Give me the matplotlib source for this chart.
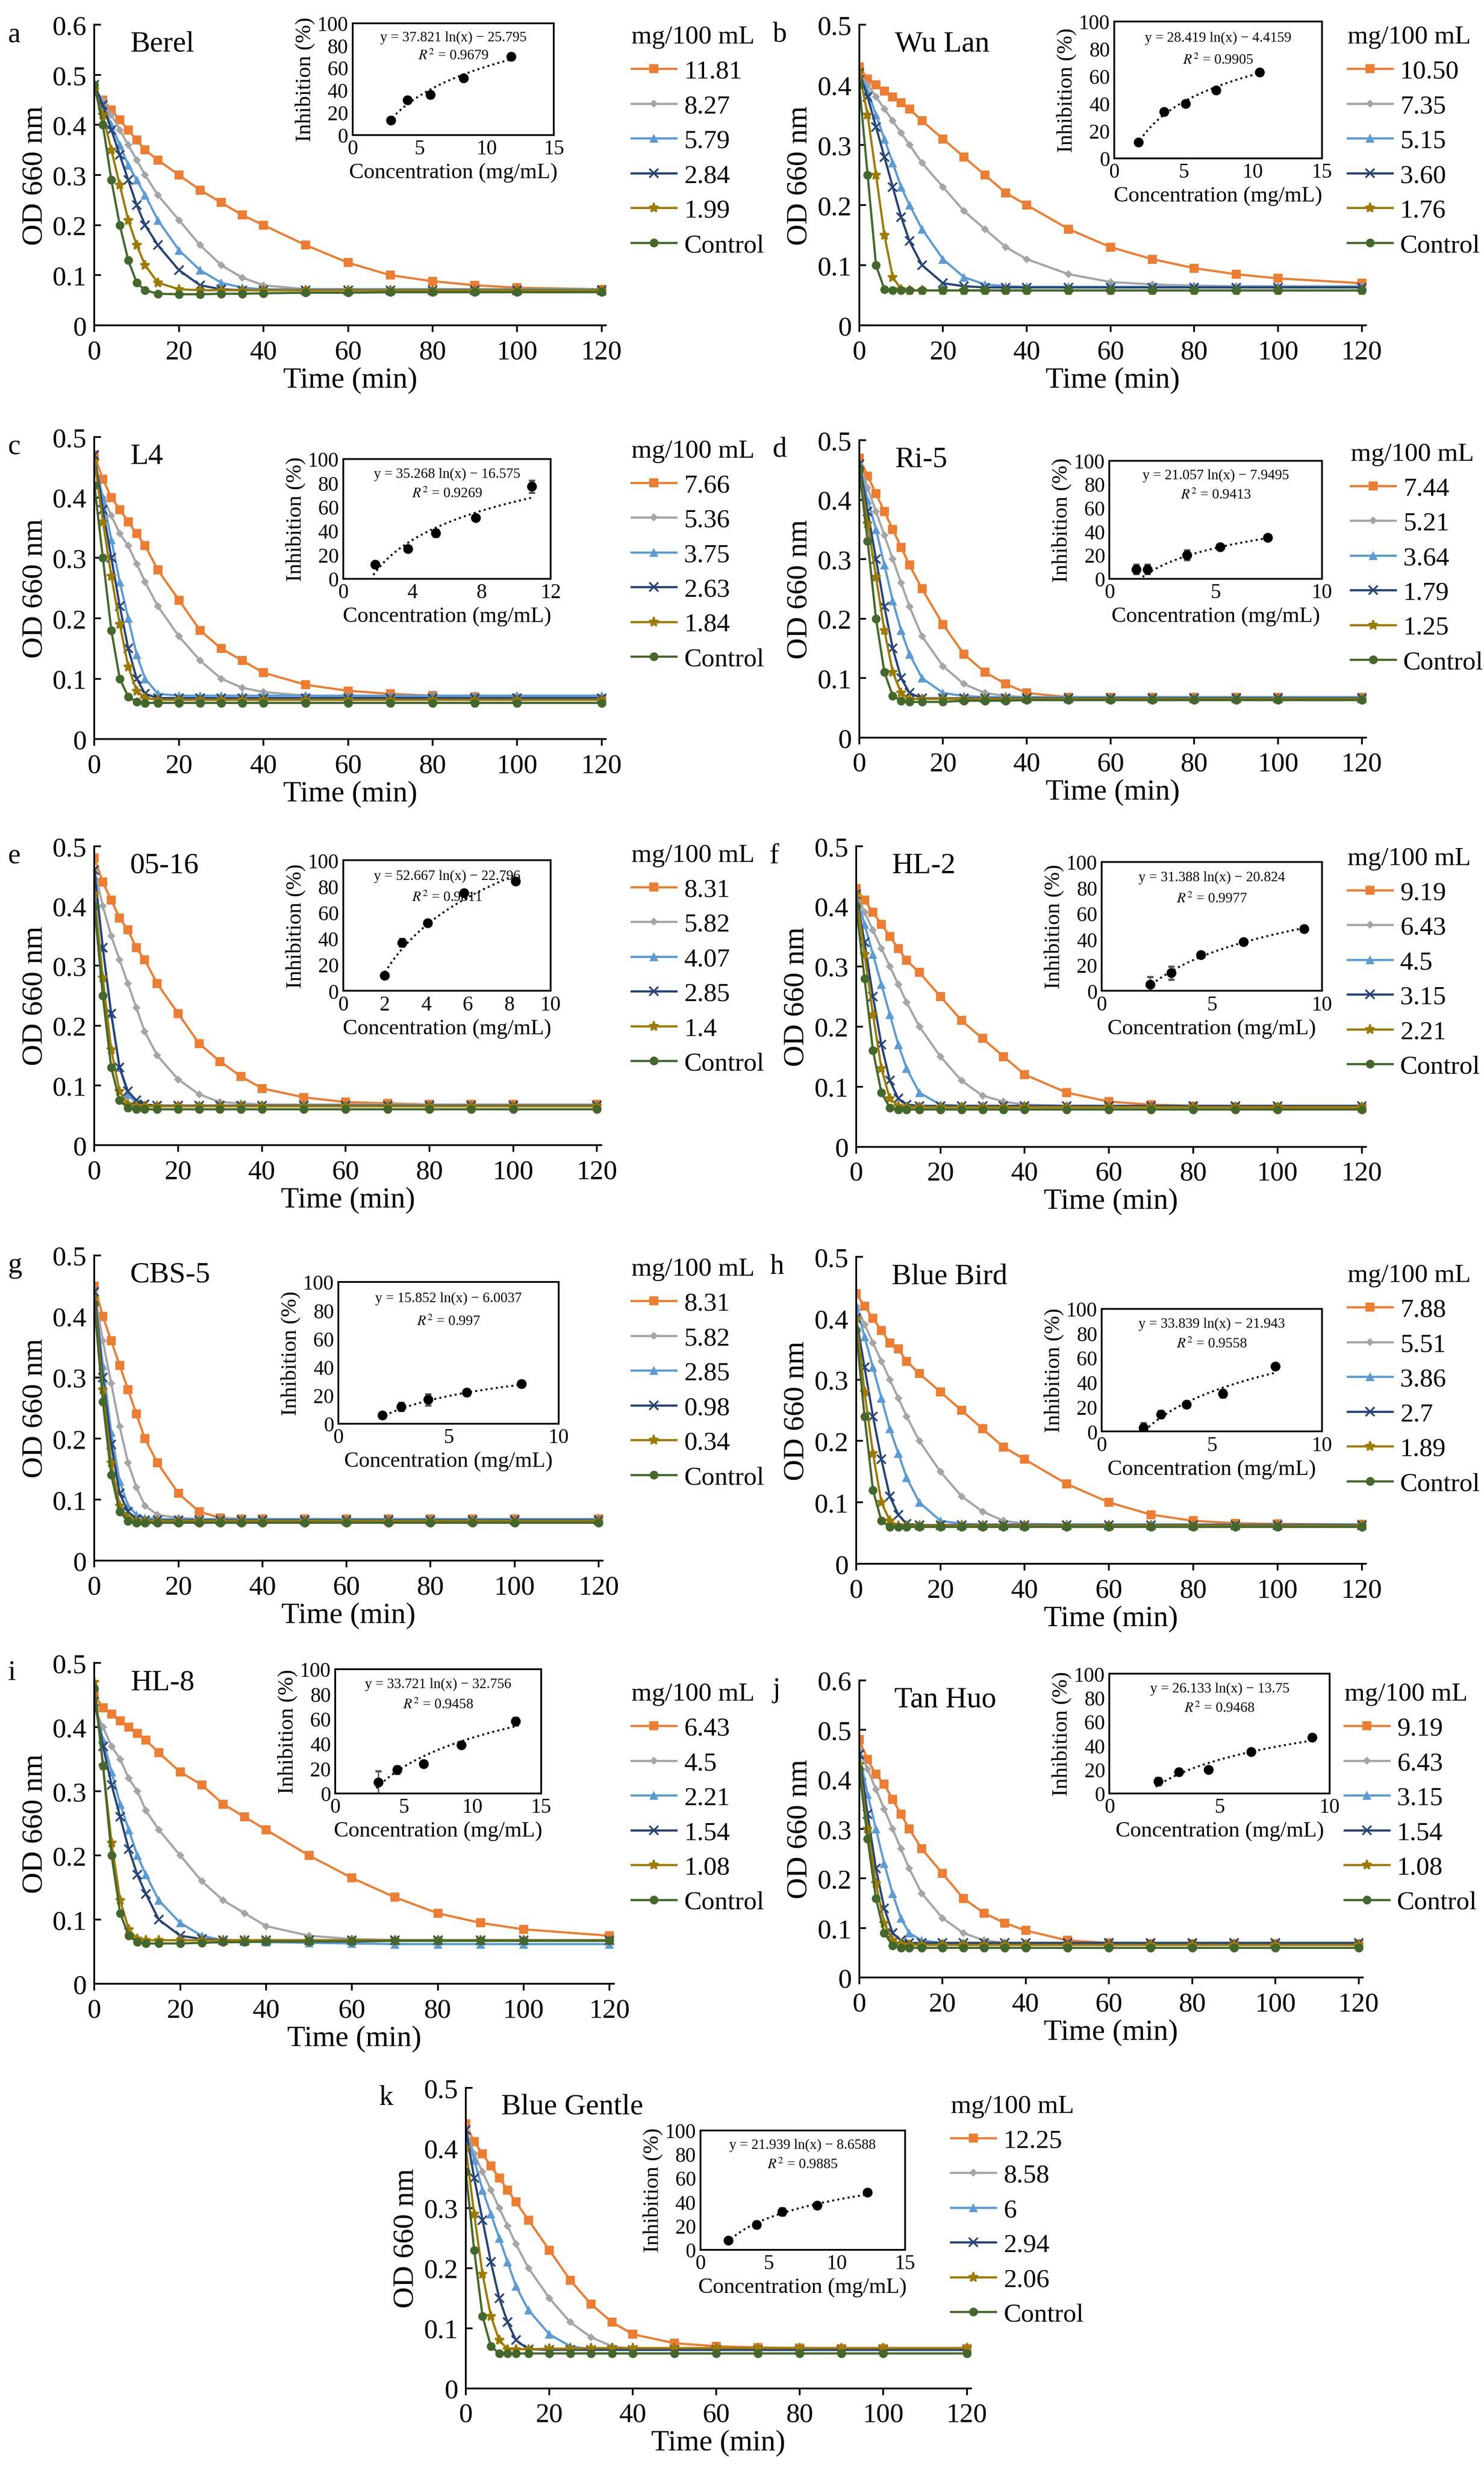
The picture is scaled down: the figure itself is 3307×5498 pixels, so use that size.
import matplotlib
matplotlib.use('Agg')
import matplotlib.pyplot as plt
import numpy as np

plt.rcParams['font.family'] = ['Liberation Serif', 'DejaVu Serif']
plt.rcParams['mathtext.fontset'] = 'stix'

# time points (min)
T = [0, 2, 4, 6, 8, 10, 12, 15, 20, 25, 30, 35, 40, 50, 60, 70, 80, 90, 100, 120]

colors = ['#ED7D31', '#A5A5A5', '#5B9BD5', '#264478', '#9E7A00', '#43682B']
markers = ['s', 'D', '^', 'x', '*', 'o']
msizes = [4, 2.5, 4, 4, 4.5, 4]

names = ['Berel', 'Wu Lan', 'L4', 'Ri-5', '05-16', 'HL-2', 'CBS-5', 'Blue Bird', 'HL-8', 'Tan Huo', 'Blue Gentle']
letters = list('abcdefghijk')

labels = [
    ['11.81', '8.27', '5.79', '2.84', '1.99', 'Control'],
    ['10.50', '7.35', '5.15', '3.60', '1.76', 'Control'],
    ['7.66', '5.36', '3.75', '2.63', '1.84', 'Control'],
    ['7.44', '5.21', '3.64', '1.79', '1.25', 'Control'],
    ['8.31', '5.82', '4.07', '2.85', '1.4', 'Control'],
    ['9.19', '6.43', '4.5', '3.15', '2.21', 'Control'],
    ['8.31', '5.82', '2.85', '0.98', '0.34', 'Control'],
    ['7.88', '5.51', '3.86', '2.7', '1.89', 'Control'],
    ['6.43', '4.5', '2.21', '1.54', '1.08', 'Control'],
    ['9.19', '6.43', '3.15', '1.54', '1.08', 'Control'],
    ['12.25', '8.58', '6', '2.94', '2.06', 'Control'],
]

od_a = [
    [.47, .45, .43, .41, .39, .37, .35, .33, .30, .27, .245, .22, .20, .16, .125, .10, .088, .08, .075, .072],
    [.47, .45, .42, .39, .36, .33, .30, .26, .21, .16, .12, .095, .08, .072, .072, .072, .072, .072, .072, .072],
    [.48, .44, .40, .36, .32, .29, .26, .21, .15, .11, .085, .075, .072, .072, .072, .072, .072, .072, .072, .072],
    [.48, .44, .39, .34, .29, .24, .20, .16, .11, .08, .072, .07, .07, .07, .07, .07, .07, .07, .07, .07],
    [.47, .42, .35, .28, .21, .16, .12, .085, .072, .07, .07, .07, .07, .07, .07, .07, .07, .07, .07, .07],
    [.48, .40, .29, .20, .13, .085, .07, .063, .062, .062, .063, .063, .064, .065, .065, .066, .066, .066, .066, .066],
]
od_b = [
    [.43, .41, .40, .39, .38, .37, .36, .34, .31, .28, .25, .22, .20, .16, .13, .11, .095, .085, .078, .07],
    [.42, .40, .38, .36, .34, .32, .30, .27, .23, .19, .16, .13, .11, .085, .072, .068, .066, .065, .065, .065],
    [.42, .39, .35, .31, .27, .23, .20, .16, .11, .08, .068, .065, .064, .064, .064, .064, .064, .064, .064, .064],
    [.42, .38, .33, .28, .23, .18, .14, .10, .07, .065, .063, .063, .063, .063, .063, .063, .063, .063, .063, .063],
    [.42, .35, .25, .15, .08, .06, .058, .058, .058, .058, .058, .058, .058, .058, .058, .058, .058, .058, .058, .058],
    [.40, .25, .10, .06, .058, .058, .058, .058, .058, .058, .058, .058, .058, .058, .058, .058, .058, .058, .058, .058],
]
od_c = [
    [.47, .43, .40, .38, .36, .34, .32, .28, .23, .18, .15, .13, .11, .09, .08, .075, .072, .07, .068, .066],
    [.45, .40, .37, .34, .32, .29, .26, .22, .17, .13, .10, .085, .078, .072, .07, .07, .07, .07, .07, .07],
    [.46, .40, .33, .26, .20, .14, .10, .075, .072, .072, .072, .072, .072, .072, .072, .072, .072, .072, .072, .072],
    [.47, .38, .30, .22, .15, .10, .075, .068, .068, .068, .068, .068, .068, .068, .068, .068, .068, .068, .068, .068],
    [.46, .36, .27, .19, .12, .08, .068, .065, .065, .065, .065, .065, .065, .065, .065, .065, .065, .065, .065, .065],
    [.42, .30, .18, .10, .07, .062, .06, .06, .06, .06, .06, .06, .06, .06, .06, .06, .06, .06, .06, .06],
]
od_d = [
    [.47, .44, .41, .38, .35, .32, .29, .25, .19, .14, .11, .09, .075, .068, .068, .068, .068, .068, .068, .068],
    [.46, .42, .38, .34, .30, .26, .22, .17, .12, .09, .075, .07, .068, .068, .068, .068, .068, .068, .068, .068],
    [.46, .40, .35, .29, .23, .18, .14, .10, .075, .07, .068, .068, .068, .068, .068, .068, .068, .068, .068, .068],
    [.46, .38, .30, .22, .15, .10, .075, .066, .066, .066, .066, .066, .066, .066, .066, .066, .066, .066, .066, .066],
    [.45, .36, .27, .18, .11, .075, .065, .065, .065, .065, .065, .065, .065, .065, .065, .065, .065, .065, .065, .065],
    [.45, .33, .20, .11, .07, .062, .06, .06, .06, .062, .062, .062, .063, .063, .063, .063, .063, .063, .063, .063],
]
od_e = [
    [.48, .44, .41, .38, .36, .33, .31, .27, .22, .17, .14, .115, .095, .08, .072, .07, .068, .068, .068, .068],
    [.46, .40, .35, .31, .27, .23, .19, .15, .11, .085, .072, .07, .068, .068, .068, .068, .068, .068, .068, .068],
    [.45, .33, .22, .13, .085, .07, .066, .066, .066, .066, .066, .066, .066, .066, .066, .066, .066, .066, .066, .066],
    [.46, .33, .22, .13, .09, .075, .068, .066, .066, .066, .066, .066, .066, .066, .066, .066, .066, .066, .066, .066],
    [.42, .28, .16, .09, .068, .065, .065, .065, .065, .065, .065, .065, .065, .065, .065, .065, .065, .065, .065, .065],
    [.40, .25, .13, .075, .062, .06, .06, .06, .06, .06, .06, .06, .06, .06, .06, .06, .06, .06, .06, .06],
]
od_f = [
    [.43, .41, .39, .37, .35, .33, .31, .29, .25, .21, .18, .15, .12, .09, .075, .07, .068, .066, .065, .064],
    [.42, .39, .36, .33, .30, .27, .24, .20, .15, .11, .085, .075, .07, .068, .068, .068, .068, .068, .068, .068],
    [.42, .37, .32, .27, .22, .17, .13, .09, .07, .068, .068, .068, .068, .068, .068, .068, .068, .068, .068, .068],
    [.42, .34, .25, .17, .11, .08, .07, .068, .068, .068, .068, .068, .068, .068, .068, .068, .068, .068, .068, .068],
    [.42, .32, .22, .13, .08, .068, .066, .066, .066, .066, .066, .066, .066, .066, .066, .066, .066, .066, .066, .066],
    [.40, .28, .16, .09, .065, .062, .062, .062, .062, .062, .062, .062, .062, .062, .062, .062, .062, .062, .062, .062],
]
od_g = [
    [.45, .40, .36, .32, .28, .24, .20, .16, .11, .08, .07, .068, .068, .068, .068, .068, .068, .068, .068, .068],
    [.44, .36, .29, .22, .16, .12, .09, .075, .07, .068, .068, .068, .068, .068, .068, .068, .068, .068, .068, .068],
    [.44, .32, .21, .13, .09, .075, .07, .068, .068, .068, .068, .068, .068, .068, .068, .068, .068, .068, .068, .068],
    [.44, .30, .19, .11, .08, .068, .066, .066, .066, .066, .066, .066, .066, .066, .066, .066, .066, .066, .066, .066],
    [.43, .28, .16, .09, .07, .065, .065, .065, .065, .065, .065, .065, .065, .065, .065, .065, .065, .065, .065, .065],
    [.42, .26, .14, .08, .065, .062, .062, .062, .062, .062, .062, .062, .062, .062, .062, .062, .062, .062, .062, .062],
]
od_h = [
    [.44, .42, .40, .38, .36, .35, .33, .31, .28, .25, .22, .19, .17, .13, .10, .08, .07, .066, .065, .064],
    [.42, .39, .36, .33, .30, .27, .24, .20, .15, .11, .085, .07, .065, .064, .064, .064, .064, .064, .064, .064],
    [.42, .37, .32, .27, .22, .18, .14, .10, .07, .065, .064, .064, .064, .064, .064, .064, .064, .064, .064, .064],
    [.40, .32, .24, .17, .11, .08, .065, .063, .063, .063, .063, .063, .063, .063, .063, .063, .063, .063, .063, .063],
    [.40, .28, .18, .10, .07, .062, .062, .062, .062, .062, .062, .062, .062, .062, .062, .062, .062, .062, .062, .062],
    [.38, .24, .12, .07, .06, .06, .06, .06, .06, .06, .06, .06, .06, .06, .06, .06, .06, .06, .06, .06],
]
od_i = [
    [.45, .43, .42, .41, .40, .39, .38, .36, .33, .31, .28, .26, .24, .20, .165, .135, .11, .095, .085, .075],
    [.43, .40, .37, .35, .32, .30, .27, .24, .20, .16, .13, .11, .09, .075, .07, .068, .068, .068, .068, .068],
    [.44, .38, .33, .28, .24, .20, .17, .13, .095, .075, .068, .066, .065, .064, .063, .062, .062, .062, .062, .062],
    [.44, .37, .31, .26, .21, .17, .14, .10, .075, .07, .068, .068, .068, .068, .068, .068, .068, .068, .068, .068],
    [.47, .34, .22, .13, .085, .07, .068, .068, .068, .068, .068, .068, .068, .068, .068, .068, .068, .068, .068, .068],
    [.46, .34, .20, .11, .075, .065, .063, .063, .063, .064, .065, .065, .066, .066, .066, .067, .067, .067, .067, .067],
]
od_j = [
    [.48, .44, .41, .39, .36, .33, .30, .26, .21, .16, .13, .11, .095, .075, .07, .068, .068, .068, .068, .068],
    [.46, .42, .38, .34, .30, .26, .22, .17, .12, .09, .075, .07, .068, .068, .068, .068, .068, .068, .068, .068],
    [.45, .37, .30, .23, .17, .12, .09, .075, .07, .07, .07, .07, .07, .07, .07, .07, .07, .07, .07, .07],
    [.45, .33, .22, .14, .09, .075, .07, .07, .07, .07, .07, .07, .07, .07, .07, .07, .07, .07, .07, .07],
    [.43, .30, .19, .11, .075, .068, .066, .066, .066, .066, .066, .066, .066, .066, .066, .066, .066, .066, .066, .066],
    [.42, .28, .16, .09, .065, .06, .06, .06, .06, .06, .06, .06, .06, .06, .06, .06, .06, .06, .06, .06],
]
od_k = [
    [.44, .41, .39, .37, .35, .33, .31, .28, .23, .18, .14, .11, .09, .075, .07, .068, .067, .066, .066, .066],
    [.43, .39, .36, .33, .30, .27, .24, .20, .15, .11, .085, .07, .065, .064, .064, .064, .064, .064, .064, .064],
    [.43, .38, .33, .29, .25, .21, .17, .13, .09, .07, .065, .064, .064, .064, .064, .064, .064, .064, .064, .064],
    [.43, .35, .28, .21, .15, .11, .08, .065, .064, .064, .064, .064, .064, .064, .064, .064, .064, .064, .064, .064],
    [.40, .29, .19, .12, .08, .065, .065, .065, .066, .066, .067, .067, .067, .067, .067, .067, .067, .067, .067, .067],
    [.36, .23, .12, .07, .058, .058, .058, .058, .058, .058, .058, .058, .058, .058, .058, .058, .058, .058, .058, .058],
]
od_all = [od_a, od_b, od_c, od_d, od_e, od_f, od_g, od_h, od_i, od_j, od_k]

# inset data: concentration (mg/mL), inhibition (%), error
inh_x = [
    [2.84, 4.1, 5.79, 8.27, 11.81],
    [1.76, 3.6, 5.15, 7.35, 10.5],
    [1.84, 3.75, 5.36, 7.66, 10.9],
    [1.25, 1.79, 3.64, 5.21, 7.44],
    [1.99, 2.85, 4.07, 5.82, 8.31],
    [2.21, 3.15, 4.5, 6.43, 9.19],
    [2.0, 2.85, 4.07, 5.82, 8.31],
    [1.89, 2.7, 3.86, 5.51, 7.88],
    [3.15, 4.5, 6.43, 9.19, 13.13],
    [2.21, 3.15, 4.5, 6.43, 9.19],
    [2.06, 4.12, 6.0, 8.58, 12.25],
]
inh_y = [
    [13, 31, 36, 51, 70],
    [12, 34, 40, 50, 63],
    [12, 25, 38, 51, 77],
    [8, 8, 20, 27, 35],
    [12, 37, 52, 75, 84],
    [5, 14, 28, 38, 48],
    [6, 12, 17, 22, 28],
    [3, 14, 22, 31, 53],
    [9, 19, 24, 39, 58],
    [10, 18, 20, 35, 47],
    [8, 21, 32, 37, 48],
]
inh_err = [
    [2, 2, 3, 2, 2],
    [2, 2, 2, 2, 2],
    [2, 2, 3, 2, 5],
    [4, 4, 4, 2, 2],
    [2, 3, 2, 2, 2],
    [6, 5, 2, 2, 2],
    [2, 3, 4, 2, 2],
    [4, 3, 2, 3, 2],
    [9, 3, 2, 2, 3],
    [3, 2, 2, 2, 2],
    [2, 2, 3, 2, 2],
]
fit_a = [37.821, 28.419, 35.268, 21.057, 52.667, 31.388, 15.852, 33.839, 33.721, 26.133, 21.939]
fit_b = [-25.795, -4.4159, -16.575, -7.9495, -22.796, -20.824, -6.0037, -21.943, -32.756, -13.75, -8.6588]
fit_r2 = ['0.9679', '0.9905', '0.9269', '0.9413', '0.9811', '0.9977', '0.997', '0.9558', '0.9458', '0.9468', '0.9885']
inset_xmax = [15, 15, 12, 10, 10, 10, 10, 10, 15, 10, 15]
inset_xstep = [5, 5, 4, 5, 2, 5, 5, 5, 5, 5, 5]

# layout in reference pixel coordinates (943 x 1568 thumbnail)
W, H = 943.0, 1568.0
main_box = [  # x0, x1, ytop, ybottom, ymax
    (60, 385, 16, 207, 0.6), (546, 868, 16, 207, 0.5),
    (60, 385, 278, 470, 0.5), (546, 868, 280, 469, 0.5),
    (60, 382, 538, 728, 0.5), (544, 868, 538, 729, 0.5),
    (60, 383, 798, 992, 0.5), (544, 868, 799, 994, 0.5),
    (60, 390, 1057, 1261, 0.5), (546, 866, 1068, 1257, 0.6),
    (296, 617, 1327, 1518, 0.5),
]
inset_box = [
    (224, 352, 15, 86), (708, 840, 14, 101), (218, 350, 292, 368), (705, 840, 293, 368),
    (218, 350, 547, 630), (700, 840, 548, 630), (215, 355, 815, 905), (700, 840, 832, 910),
    (213, 344, 1061, 1140), (705, 845, 1064, 1140), (445, 575, 1354, 1430),
]
legend_pos = [(393, 8), (848, 8), (393, 271), (850, 273), (393, 528), (848, 530),
              (393, 791), (848, 795), (393, 1061), (846, 1061), (596, 1323)]


def fig_rect(x0, x1, yt, yb):
    return [x0 / W, 1 - yb / H, (x1 - x0) / W, (yb - yt) / H]


fig = plt.figure(figsize=(W / 100, H / 100), dpi=350.7)

for p in range(11):
    x0, x1, yt, yb, ymax = main_box[p]
    ax = fig.add_axes(fig_rect(x0, x1, yt, yb))
    handles = []
    for k in range(6):
        h, = ax.plot(T, od_all[p][k], color=colors[k], marker=markers[k], ms=msizes[k],
                     lw=1.0, markeredgewidth=0.8 if markers[k] in 'x*' else 0)
        handles.append(h)
    ax.set_xlim(0, 121)
    ax.set_ylim(0, ymax)
    ax.set_xticks(range(0, 121, 20))
    ax.set_yticks(np.arange(0, ymax + 0.001, 0.1))
    ax.set_yticklabels(['0'] + ['%.1f' % v for v in np.arange(0.1, ymax + 0.001, 0.1)])
    ax.spines['top'].set_visible(False)
    ax.spines['right'].set_visible(False)
    ax.tick_params(labelsize=12.5, direction='in', length=3)
    ax.tick_params(axis='x', direction='out')
    ax.set_xlabel('Time (min)', fontsize=13.5, labelpad=1)
    ax.set_ylabel('OD 660 nm', fontsize=13.5, labelpad=2)
    ax.text(0.07, 0.98, names[p], transform=ax.transAxes, fontsize=13.5, va='top')
    fig.text((x0 - 55) / W, 1 - (yt - 2) / H, letters[p], fontsize=13, va='top')

    lx, ly = legend_pos[p]
    leg = fig.legend(handles, labels[p], loc='upper left', bbox_to_anchor=(lx / W, 1 - ly / H),
                     frameon=False, title='mg/100 mL', fontsize=12, title_fontsize=12,
                     handlelength=1.7, labelspacing=0.42, handletextpad=0.3, borderpad=0)
    leg._legend_box.align = 'left'

    # inset with inhibition fit
    ix0, ix1, iyt, iyb = inset_box[p]
    ins = fig.add_axes(fig_rect(ix0, ix1, iyt, iyb))
    ins.errorbar(inh_x[p], inh_y[p], yerr=inh_err[p], fmt='o', color='black', ms=3.5,
                 ecolor='#555555', elinewidth=0.6, capsize=1.5)
    xf = np.linspace(min(inh_x[p]) * 0.95, max(inh_x[p]), 60)
    ins.plot(xf, fit_a[p] * np.log(xf) + fit_b[p], ls=':', color='black', lw=0.9)
    ins.set_xlim(0, inset_xmax[p])
    ins.set_ylim(0, 100)
    ins.set_xticks(range(0, inset_xmax[p] + 1, inset_xstep[p]))
    ins.set_yticks(range(0, 101, 20))
    ins.tick_params(labelsize=9.5, length=0, pad=2)
    ins.set_xlabel('Concentration (mg/mL)', fontsize=10, labelpad=2)
    ins.set_ylabel('Inhibition (%)', fontsize=10, labelpad=1)
    eq = 'y = %.5g ln(x) \u2212 %.5g' % (fit_a[p], -fit_b[p])
    ins.text(0.5, 0.93, eq, transform=ins.transAxes, fontsize=6.5, ha='center', va='top')
    ins.text(0.5, 0.77, '$R^2$ = ' + fit_r2[p], transform=ins.transAxes, fontsize=6.5,
             ha='center', va='top')

fig.savefig('out.png', dpi=350.7)
